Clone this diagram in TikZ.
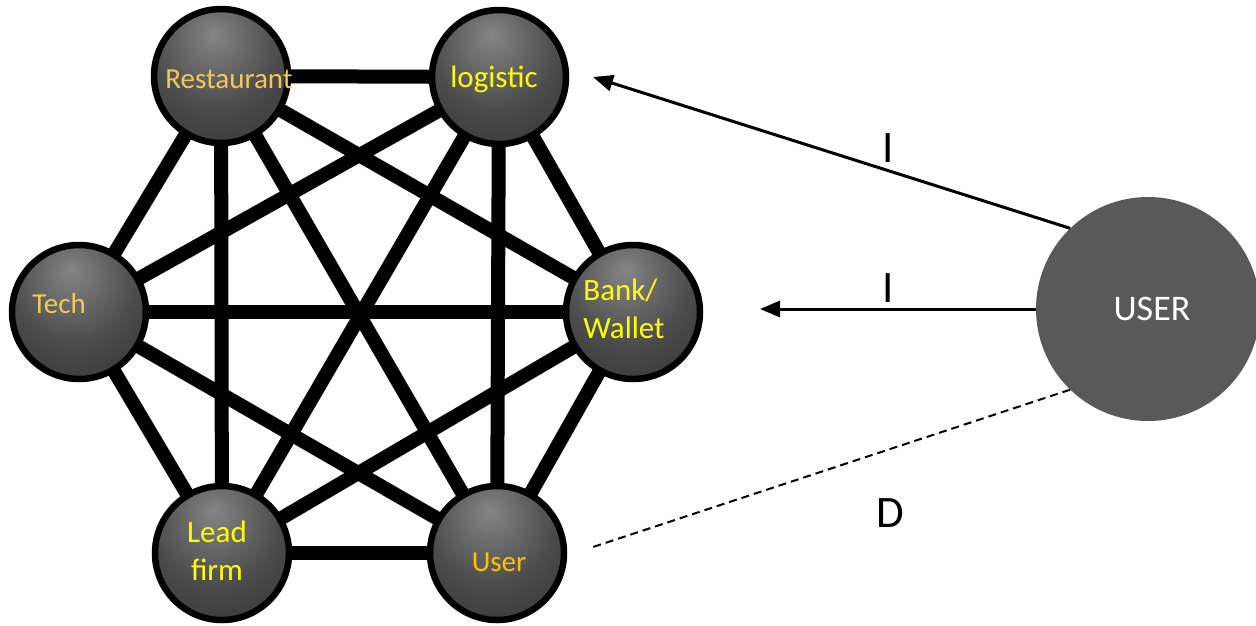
\documentclass[tikz,border=0pt]{standalone}
\usepackage{fontspec}
\setmainfont{Carlito}
\usetikzlibrary{arrows.meta}

\definecolor{sphhi}{HTML}{858585}
\definecolor{sphmid}{HTML}{4A4A4A}
\definecolor{sphlo}{HTML}{2A2A2A}
\definecolor{lblgold}{HTML}{F2C955}
\definecolor{lblorange}{HTML}{FFC000}
\definecolor{lblyellow}{HTML}{FFFF00}
\definecolor{userfill}{HTML}{595959}

% dark sphere with a soft highlight above the centre
\pgfdeclareradialshading{sphereshade}{\pgfpoint{-3bp}{16bp}}{%
  color(0bp)=(sphhi); color(24bp)=(sphmid); color(52bp)=(sphlo); color(80bp)=(sphlo)}

\tikzset{
  sphere/.style={circle, draw=black, line width=6.5pt, minimum size=134pt,
    inner sep=0pt, shading=sphereshade},
  link/.style={line width=14pt, black},
  sphlabel/.style={anchor=base, inner sep=0pt, font=\fontsize{29}{38}\selectfont},
  sphlabelbig/.style={anchor=base, inner sep=0pt, font=\fontsize{31}{38}\selectfont},
  bigcircle/.style={circle, fill=userfill, minimum size=224pt, inner sep=0pt},
  flow/.style={line width=3pt, -{Triangle[length=20pt,width=16pt]}},
  weak/.style={line width=2pt, dash pattern=on 8pt off 5pt},
  tag/.style={anchor=base, inner sep=0pt, font=\fontsize{45}{50}\selectfont}
}

\begin{document}
\begin{tikzpicture}[x=1pt, y=-1pt]
\useasboundingbox (0,0) rectangle (1256,625);

% positions of the six partners
\coordinate (pR) at (221,76);
\coordinate (pL) at (499,77);
\coordinate (pT) at (79,312);
\coordinate (pB) at (633,312);
\coordinate (pF) at (222,553);
\coordinate (pU) at (497,553);

% complete network of links, drawn beneath the spheres
\foreach \a/\b in {R/L,R/T,R/F,R/U,R/B,L/T,L/F,L/U,L/B,T/B,T/F,T/U,B/F,B/U,F/U}
  \draw[link] (p\a) -- (p\b);

\node[sphere] (rest) at (pR) {};
\node[sphere] (logi) at (pL) {};
\node[sphere] (tech) at (pT) {};
\node[sphere] (bank) at (pB) {};
\node[sphere] (lead) at (pF) {};
\node[sphere] (usr)  at (pU) {};

% labels; for two-line labels the base anchor sits on the last line
\node[sphlabel, text=lblgold] (tRest) at (229,88) {Restaurant};
\node[sphlabelbig, text=lblyellow] (tLogi) at (494,87) {logistic};
\node[sphlabel, text=lblgold] (tTech) at (59,313) {Tech};
\node[sphlabelbig, text=lblyellow, align=left] (tBank) at (624,338) {Bank/\\Wallet};
\node[sphlabelbig, text=lblyellow, align=center] (tLead) at (217,580) {Lead\\firm};
\node[sphlabel, text=lblorange] (tUsr) at (499,571) {User};

% the outside user and its relations to the network
\node[bigcircle] (USER) at (1148,309) {};
\node[anchor=base, inner sep=0pt, text=white, font=\fontsize{36}{42}\selectfont] (tUSER) at (1152,320) {USER};

\coordinate (tipI1) at (593,77);
\coordinate (tipI2) at (760,309);
\coordinate (endD) at (593,547);

\draw[flow] (USER.134) -- (tipI1);
\draw[flow] (USER.west) -- (tipI2);
\draw[weak] (USER.226) -- (endD);

\node[tag] (lI1) at (888,162) {I};
\node[tag] (lI2) at (888,302) {I};
\node[tag] (lD) at (890,527) {D};
\end{tikzpicture}
\end{document}
